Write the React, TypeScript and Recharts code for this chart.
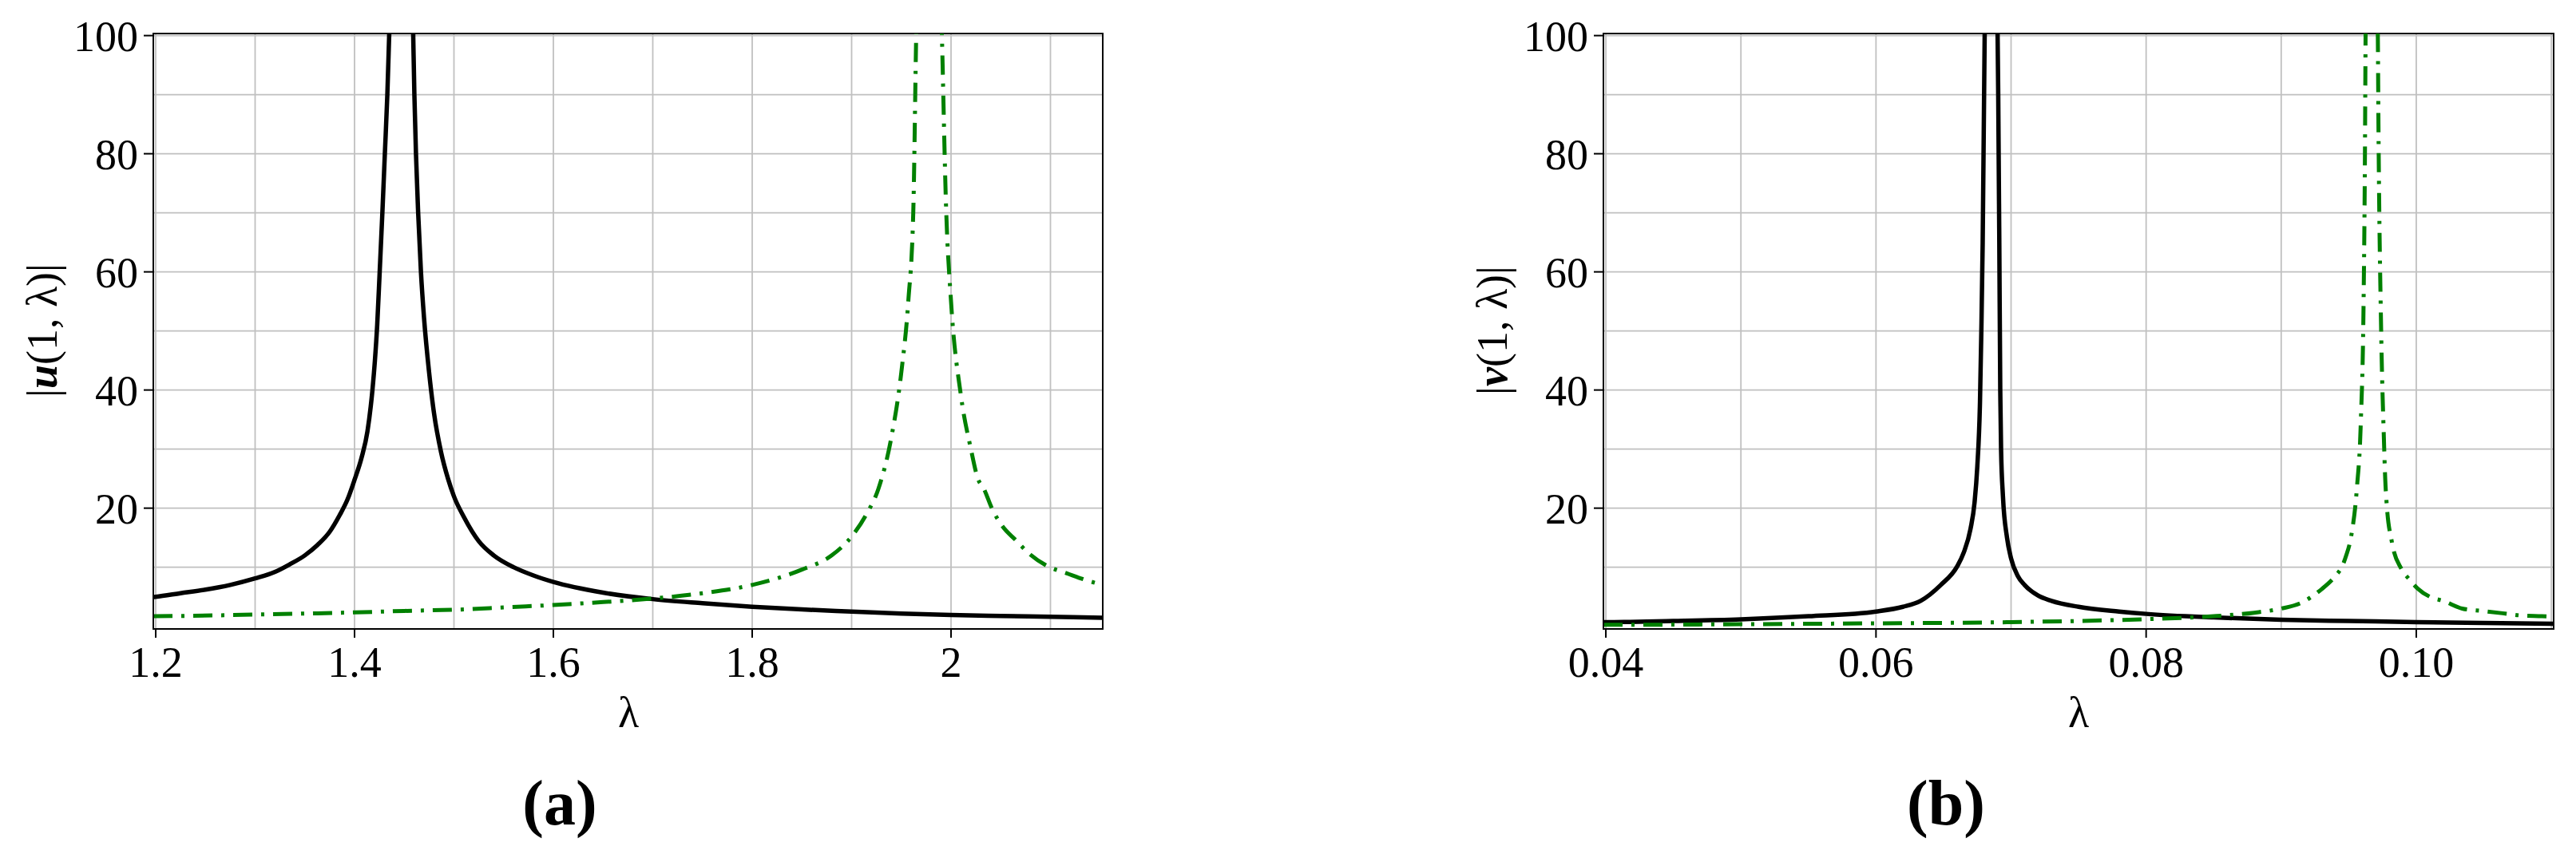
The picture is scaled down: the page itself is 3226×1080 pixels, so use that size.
import React from 'react';
import { LineChart, Line, XAxis, YAxis, CartesianGrid, ReferenceArea } from 'recharts';

// ---------- Panel (a): |u(1, λ)| ----------
const lamA_black = [1.1976, 1.2, 1.225, 1.25, 1.275, 1.3, 1.32, 1.335, 1.35, 1.363, 1.375, 1.385, 1.393, 1.4, 1.407, 1.413, 1.418, 1.4205, 1.4228, 1.4253, 1.428, 1.4305, 1.433, 1.4352, 1.4468, 1.4588, 1.4602, 1.4618, 1.464, 1.4668, 1.47, 1.475, 1.48, 1.487, 1.494, 1.5, 1.51, 1.525, 1.54, 1.56, 1.58, 1.6, 1.65, 1.7, 1.75, 1.8, 1.85, 1.9, 1.95, 2.0, 2.05, 2.1, 2.1526];
const uBlack = [4.95, 5.0, 5.6, 6.2, 7.0, 8.1, 9.2, 10.5, 12.0, 13.8, 16.0, 18.8, 21.5, 24.8, 28.5, 33, 40, 45, 51, 60, 70, 80, 90, 102, 150, 102, 90, 80, 70, 60, 52, 43, 36, 29.5, 25, 22, 18.5, 14.4, 12.0, 10.0, 8.6, 7.5, 5.7, 4.6, 3.9, 3.3, 2.85, 2.5, 2.15, 1.9, 1.75, 1.6, 1.45];

const lamA_green = [1.1976, 1.2, 1.3, 1.363, 1.4, 1.45, 1.516, 1.55, 1.6, 1.65, 1.7, 1.75, 1.8, 1.85, 1.88, 1.9, 1.915, 1.927, 1.94, 1.95, 1.957, 1.962, 1.9652, 1.978, 1.9905, 1.995, 2.0, 2.01, 2.02, 2.027, 2.033, 2.041, 2.051, 2.065, 2.08, 2.098, 2.116, 2.136, 2.1526];
const uGreen = [1.72, 1.72, 1.98, 2.2, 2.35, 2.6, 2.9, 3.2, 3.6, 4.1, 4.7, 5.6, 7.0, 9.6, 12.0, 15.2, 19.0, 23.3, 32, 43, 55, 70, 102, 150, 102, 71, 55, 39, 30, 25, 23.3, 20, 17.1, 14.6, 12.1, 10.1, 9.0, 7.8, 7.0];

// ---------- Panel (b): |v(1, λ)| ----------
const lamB_black = [0.03982, 0.04, 0.045, 0.05, 0.055, 0.06, 0.062, 0.0633, 0.0648, 0.066, 0.0665, 0.067, 0.0673, 0.0675, 0.0677, 0.0678, 0.0679, 0.06805, 0.06855, 0.069, 0.06905, 0.06913, 0.0692, 0.06926, 0.0694, 0.0697, 0.07, 0.0705, 0.071, 0.072, 0.073, 0.075, 0.078, 0.08, 0.085, 0.09, 0.095, 0.1, 0.105, 0.11017];
const vBlack = [0.7, 0.7, 0.9, 1.18, 1.7, 2.5, 3.3, 4.3, 7.0, 10.1, 12.5, 16.5, 21, 27, 38, 50, 65, 101, 150, 101, 90, 65, 40, 30, 22, 15, 11.5, 8.5, 7.0, 5.2, 4.3, 3.3, 2.5, 2.1, 1.5, 1.1, 0.9, 0.7, 0.55, 0.42];

const lamB_green = [0.03982, 0.04, 0.05, 0.06, 0.07, 0.075, 0.08, 0.085, 0.088, 0.09, 0.0915, 0.093, 0.094, 0.0945, 0.0948, 0.0952, 0.0956, 0.0959, 0.0961, 0.0962, 0.09625, 0.0966, 0.09715, 0.0972, 0.0974, 0.0976, 0.0977, 0.0978, 0.0982, 0.0989, 0.0995, 0.1001, 0.1011, 0.102, 0.1034, 0.1049, 0.1064, 0.1079, 0.1093, 0.11017];
const vGreen = [0.25, 0.25, 0.35, 0.5, 0.7, 0.9, 1.2, 1.7, 2.3, 3.0, 4.0, 6.3, 8.5, 10.1, 11.9, 15.5, 23.3, 35, 55, 80, 101, 150, 101, 85, 50, 32, 25, 21, 14.2, 9.7, 7.9, 6.4, 4.9, 4.3, 3.0, 2.6, 2.2, 1.8, 1.7, 1.6];

// ---------- Axes ----------
const domainA: [number, number] = [1.1976, 2.1526];
const domainB: [number, number] = [0.03982, 0.11017];
const domainY: [number, number] = [-0.45, 100.35];
const ticksA = [1.2, 1.4, 1.6, 1.8, 2];
const tickLabelsA = ['1.2', '1.4', '1.6', '1.8', '2'];
const ticksB = [0.04, 0.06, 0.08, 0.1];
const tickLabelsB = ['0.04', '0.06', '0.08', '0.10'];
const ticksY = [20, 40, 60, 80, 100];
const gridA = [1.2, 1.3, 1.4, 1.5, 1.6, 1.7, 1.8, 1.9, 2.0, 2.1];
const gridB = [0.04, 0.05, 0.06, 0.07, 0.08, 0.09, 0.1, 0.11];
const gridY = [10, 20, 30, 40, 50, 60, 70, 80, 90, 100];

const zip = (xs: number[], ys: number[]) => xs.map((x, i) => ({ x, y: ys[i] }));

const FONT = '"Liberation Serif", "DejaVu Serif", serif';
const tickStyle = { fontSize: 54, fill: '#000', fontFamily: FONT };

function Panel(props: {
  black: { x: number; y: number }[];
  green: { x: number; y: number }[];
  domain: [number, number];
  ticks: number[];
  labels: string[];
  grid: number[];
  margin: { top: number; left: number; right: number; bottom: number };
}) {
  const { black, green, domain, ticks, labels, grid, margin } = props;
  return (
    <LineChart width={1613} height={1080} margin={margin}>
      <CartesianGrid stroke="#c0c0c0" strokeWidth={1.8} verticalValues={grid} horizontalValues={gridY} />
      <XAxis
        type="number"
        dataKey="x"
        domain={domain}
        allowDataOverflow
        ticks={ticks}
        interval={0}
        tickFormatter={(v: number) => labels[ticks.indexOf(v)] ?? String(v)}
        height={2}
        tickSize={11}
        tickMargin={11}
        tick={tickStyle}
        axisLine={{ stroke: '#000', strokeWidth: 2 }}
        tickLine={{ stroke: '#000', strokeWidth: 2 }}
      />
      <YAxis
        type="number"
        domain={domainY}
        allowDataOverflow
        ticks={ticksY}
        interval={0}
        width={2}
        tickSize={12}
        tickMargin={7}
        tick={tickStyle}
        axisLine={{ stroke: '#000', strokeWidth: 2 }}
        tickLine={{ stroke: '#000', strokeWidth: 2 }}
      />
      <ReferenceArea x1={domain[0]} x2={domain[1]} y1={domainY[0]} y2={domainY[1]} fill="none" stroke="#000" strokeWidth={2} ifOverflow="visible" />
      <Line data={black} dataKey="y" type="monotone" stroke="#000" strokeWidth={5.5} dot={false} isAnimationActive={false} />
      <Line data={green} dataKey="y" type="monotone" stroke="#008000" strokeWidth={5} strokeDasharray="24 11 4 11" dot={false} isAnimationActive={false} />
    </LineChart>
  );
}

export default function App() {
  return (
    <div style={{ position: 'absolute', left: 0, top: 0, width: 3226, height: 1080, background: '#fff', fontFamily: FONT }}>
      <div style={{ position: 'absolute', left: 0, top: 0 }}>
        <Panel
          black={zip(lamA_black, uBlack)}
          green={zip(lamA_green, uGreen)}
          domain={domainA}
          ticks={ticksA}
          labels={tickLabelsA}
          grid={gridA}
          margin={{ top: 42, left: 190, right: 232, bottom: 290 }}
        />
      </div>
      <div style={{ position: 'absolute', left: 1613, top: 0 }}>
        <Panel
          black={zip(lamB_black, vBlack)}
          green={zip(lamB_green, vGreen)}
          domain={domainB}
          ticks={ticksB}
          labels={tickLabelsB}
          grid={gridB}
          margin={{ top: 42, left: 393, right: 28, bottom: 290 }}
        />
      </div>
      <svg width={3226} height={1080} style={{ position: 'absolute', left: 0, top: 0, pointerEvents: 'none' }}>
        <g fontFamily={FONT} fill="#000">
          <text x={53} y={414} fontSize={54} textAnchor="middle" dominantBaseline="central" transform="rotate(-90 53 414)">
            |<tspan fontWeight="bold" fontStyle="italic">u</tspan>(1, λ)|
          </text>
          <text x={787} y={911} fontSize={54} textAnchor="middle">λ</text>
          <text x={701} y={1033} fontSize={80} fontWeight="bold" textAnchor="middle">(a)</text>

          <text x={1869} y={414} fontSize={54} textAnchor="middle" dominantBaseline="central" transform="rotate(-90 1869 414)">
            |<tspan fontWeight="bold" fontStyle="italic">v</tspan>(1, λ)|
          </text>
          <text x={2603} y={911} fontSize={54} textAnchor="middle">λ</text>
          <text x={2437} y={1033} fontSize={80} fontWeight="bold" textAnchor="middle">(b)</text>
        </g>
      </svg>
    </div>
  );
}
